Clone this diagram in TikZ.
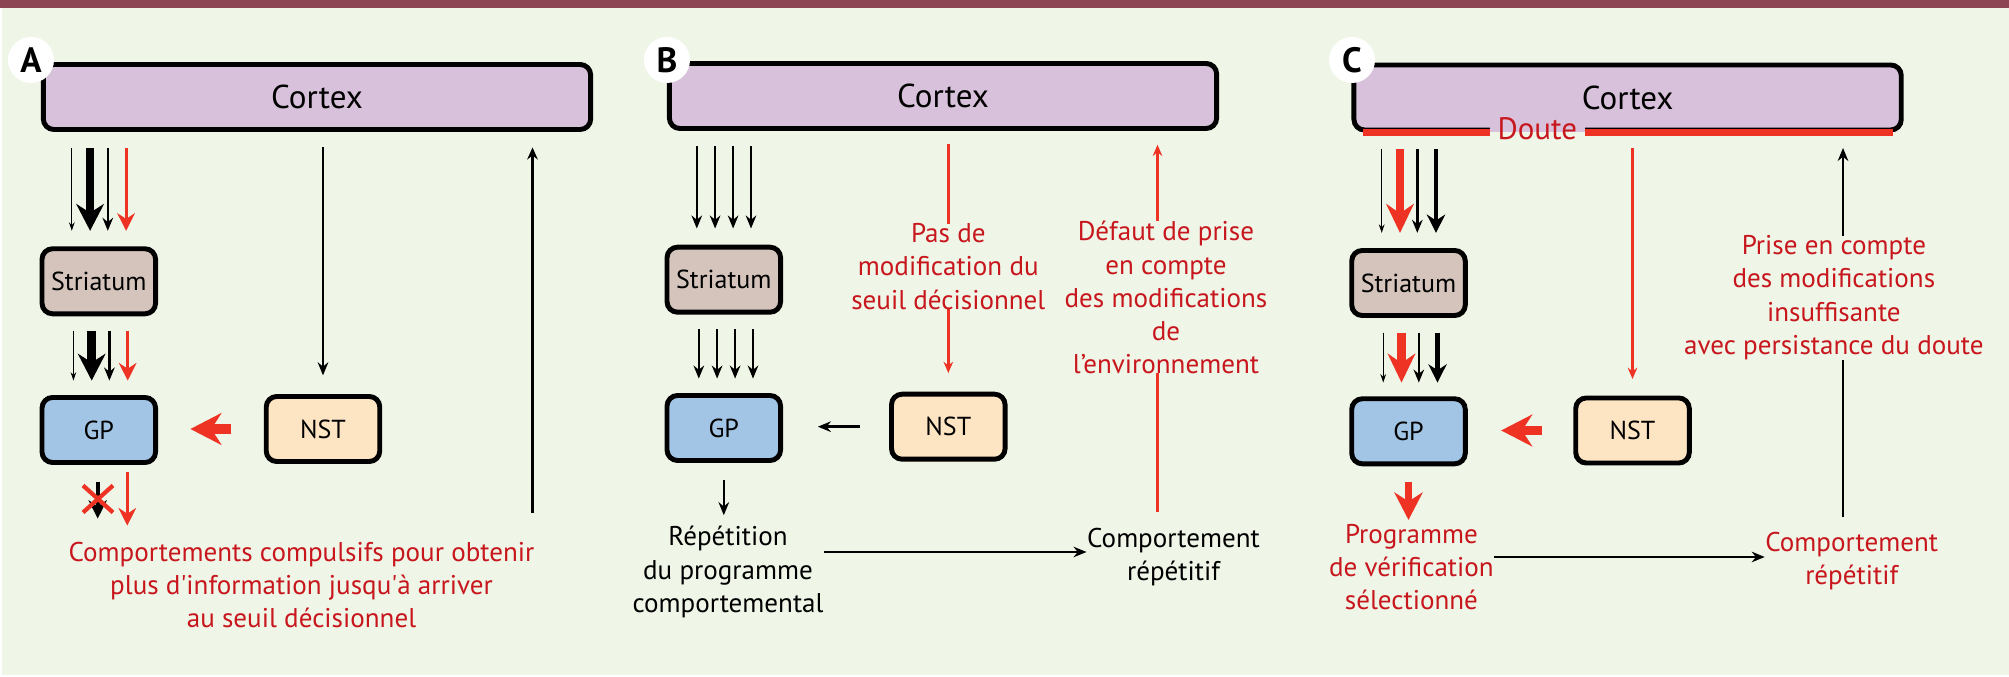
\documentclass[tikz,border=0pt]{standalone}
\usepackage{fontspec}
\setmainfont{PT Sans}[Ligatures=TeXOff]
\usepackage{tikz}
\usetikzlibrary{arrows.meta,calc}
\definecolor{myBand}{HTML}{8C4553}
\definecolor{myBg}{HTML}{EFF6E8}
\definecolor{myCortex}{HTML}{D8C1DA}
\definecolor{myStriatum}{HTML}{D4C4BB}
\definecolor{myGP}{HTML}{A3C5E5}
\definecolor{myNST}{HTML}{FDE4C2}
\definecolor{myRed}{HTML}{EE3224}
\definecolor{myRedText}{HTML}{C8161D}

\tikzset{
	box/.style={draw, line width=1.4pt, rounded corners=3pt, minimum height=0.65cm, inner sep=0pt, font=\fontsize{7.4}{9}\selectfont},
	cortexbox/.style={box, fill=myCortex, minimum width=5.47cm, font=\fontsize{9.4}{12}\selectfont},
	stribox/.style={box, fill=myStriatum, minimum width=1.135cm},
	gpbox/.style={box, fill=myGP, minimum width=1.135cm},
	nstbox/.style={box, fill=myNST, minimum width=1.135cm},
	lettre/.style={circle, fill=white, minimum size=0.46cm, inner sep=0pt, font=\bfseries\fontsize{10}{10}\selectfont},
	blktxt/.style={align=center, inner sep=0pt, font=\fontsize{7.7}{9.4}\selectfont},
	redtxt/.style={blktxt, text=myRedText},
	% arrows
	thinarr/.style={line width=0.35pt, -{Stealth[length=2.4pt,width=1.6pt]}},
	midarr/.style={line width=0.7pt, -{Stealth[length=3.7pt,width=3pt]}},
	semifat/.style={line width=1.2pt, -{Stealth[length=5.2pt,width=5.2pt]}},
	fatarr/.style={line width=2.4pt, -{Stealth[length=7.6pt,width=7.8pt]}},
	redarr/.style={myRed, line width=0.85pt, -{Stealth[length=5pt,width=5pt]}},
	redline/.style={myRed, line width=0.7pt, -{Stealth[length=3.2pt,width=2.7pt]}},
	redfatv/.style={myRed, line width=2.3pt, -{Stealth[length=8.2pt,width=7.8pt]}},
	redfat/.style={myRed, line width=2.7pt, -{Stealth[length=8.8pt,width=9pt]}},
	doute/.style={myRed, line width=1.8pt},
}

\begin{document}
\begin{tikzpicture}[x=0.01cm, y=-0.01cm]
	\useasboundingbox (0,0) rectangle (2009,677);
	% background
	\fill[myBg] (2,8) rectangle (2009,675);
	\fill[myBand] (0,0) rectangle (2009,8);

	%%%%%%%%%% A %%%%%%%%%%
	\node[cortexbox] (cortexA) at (317,97) {Cortex};
	\node[stribox] (striA) at (98.8,281.3) {Striatum};
	\node[gpbox] (gpA) at (98.8,430) {GP};
	\node[nstbox] (nstA) at (323,429) {NST};
	\node[lettre] (labA) at (31,60) {A};
	\node[redtxt] (txtA) at (301.5,585) {Comportements compulsifs pour obtenir\\plus d'information jusqu'à arriver\\au seuil décisionnel};

	% bundles of arrows
	\foreach \dx/\sty in {-27/thinarr,-8.7/fatarr,9/midarr,27.3/redarr}{
		\draw[\sty, shorten <=4.5pt, shorten >=4.4pt] ($(cortexA.south -| striA.north)+(\dx,0)$) -- ($(striA.north)+(\dx,0)$);
		\draw[\sty, shorten <=4.1pt, shorten >=4.1pt] ($(striA.south)+(\dx+1.6,0)$) -- ($(gpA.north)+(\dx+1.6,0)$);
	}
	\draw[midarr, shorten <=4.4pt, shorten >=5.3pt] (cortexA.south -| nstA.north) -- (nstA.north);
	\draw[redfat, shorten <=9.2pt, shorten >=9.2pt] (nstA.west) -- (gpA.east |- nstA.west);
	\coordinate (retA) at (532.5,513);
	\draw[line width=0.75pt, -{Stealth[length=3.4pt,width=3pt]}, shorten >=4.4pt] (retA) -- (retA |- cortexA.south);

	% output of GP
	\draw[semifat, shorten <=4.7pt, shorten >=6.5pt] ($(gpA.south)+(-1.1,0)$) -- ($(txtA.north -| gpA.south)+(-1.1,0)$);
	\coordinate (croixA) at ($(gpA.south)+(-0.8,34)$);
	\draw[myRed, line width=1.2pt] (croixA) ++(-15,-13.5) -- ++(30,27);
	\draw[myRed, line width=1.2pt] (croixA) ++(-15,13.5) -- ++(30,-27);
	\draw[redarr, shorten <=2.1pt, shorten >=4.5pt] ($(gpA.south)+(28.5,0)$) -- ($(txtA.north -| gpA.south)+(28.5,0)$);

	%%%%%%%%%% B %%%%%%%%%%
	\node[cortexbox] (cortexB) at (943,96) {Cortex};
	\node[stribox] (striB) at (723.8,279.7) {Striatum};
	\node[gpbox] (gpB) at (723.8,428) {GP};
	\node[nstbox] (nstB) at (948.3,426.7) {NST};
	\node[lettre] (labB) at (667,60) {B};
	\node[blktxt] (repB) at (728,572) {Répétition\\du programme\\comportemental};
	\node[blktxt] (compB) at (1173.5,557) {Comportement\\répétitif};

	\foreach \dx in {-27,-8.7,9.3,27.2}{
		\draw[midarr, shorten <=4.4pt, shorten >=4.6pt] ($(cortexB.south -| striB.north)+(\dx,0)$) -- ($(striB.north)+(\dx,0)$);
		\draw[midarr, shorten <=4.1pt, shorten >=4.1pt] ($(striB.south)+(\dx+2,0)$) -- ($(gpB.north)+(\dx+2,0)$);
	}
	\draw[redline, shorten <=3.8pt, shorten >=5.3pt] (cortexB.south -| nstB.north) -- node[redtxt, fill=myBg, pos=0.52] (pasB) {Pas de\\modification du\\seuil décisionnel} (nstB.north);
	\draw[midarr, shorten <=8.3pt, shorten >=9.9pt] (nstB.west) -- (gpB.east |- nstB.west);
	\draw[midarr, shorten <=4.7pt, shorten >=3pt] (gpB.south) -- (repB.north -| gpB.south);
	\coordinate (hB) at (0,552);
	\draw[midarr] (repB.east |- hB) -- (compB.west |- hB);
	\coordinate (retB) at ($(compB.north)+(-16,0)$);
	\draw[redline, shorten <=4.5pt, shorten >=3.9pt] (retB) -- node[redtxt, fill=myBg, pos=0.58, xshift=2.4pt] (defB) {Défaut de prise\\en compte\\des modifications\\de\\l’environnement} (retB |- cortexB.south);

	%%%%%%%%%% C %%%%%%%%%%
	\node[cortexbox] (cortexC) at (1627.6,97.5) {Cortex};
	\node[stribox] (striC) at (1408.5,283) {Striatum};
	\node[gpbox] (gpC) at (1408.5,431.3) {GP};
	\node[nstbox] (nstC) at (1632.5,430.5) {NST};
	\node[lettre] (labC) at (1352,60) {C};
	\node[redtxt] (progC) at (1411.4,567) {Programme\\de vérification\\sélectionné};
	\node[redtxt] (compC) at (1851.7,561) {Comportement\\répétitif};

	% doubt on the cortex: the red line replaces the lower edge
	\draw[doute] ($(cortexC.south west)+(11.5,0)$) -- node[pos=0.329, fill=myCortex, inner ysep=0pt, inner xsep=2.3pt, yshift=1.2pt, text=myRedText, font=\fontsize{8.8}{11}\selectfont,
		path picture={\fill[myBg] (path picture bounding box.south west) rectangle (path picture bounding box.east |- cortexC.south);}] (douteC) {Doute} ($(cortexC.south east)+(-11,0)$);

	\foreach \dx/\sty in {-26.8/thinarr,-8.5/redfatv,8.8/midarr,27.5/semifat}{
		\draw[\sty, shorten <=4.7pt, shorten >=4.3pt] ($(cortexC.south -| striC.north)+(\dx,0)$) -- ($(striC.north)+(\dx,0)$);
		\draw[\sty, shorten <=4.2pt, shorten >=3.9pt] ($(striC.south)+(\dx+1.5,0)$) -- ($(gpC.north)+(\dx+1.5,0)$);
	}
	\draw[redline, shorten <=4.4pt, shorten >=4.7pt] (cortexC.south -| nstC.north) -- (nstC.north);
	\draw[redfat, shorten <=9pt, shorten >=9.5pt] (nstC.west) -- (gpC.east |- nstC.west);
	\draw[myRed, line width=2.2pt, -{Stealth[length=7.8pt,width=8pt]}, shorten <=4.5pt, shorten >=1pt] (gpC.south) -- (progC.north -| gpC.south);
	\coordinate (hC) at (0,557);
	\draw[midarr] (progC.east |- hC) -- (compC.west |- hC);
	\coordinate (retC) at ($(compC.north)+(-8.7,0)$);
	\draw[midarr, shorten <=4pt, shorten >=4.4pt] (retC) -- node[redtxt, fill=myBg, pos=0.586, xshift=-2.6pt] (priseC) {Prise en compte\\des modifications\\insuffisante\\avec persistance du doute} (retC |- cortexC.south);
\end{tikzpicture}
\end{document}
